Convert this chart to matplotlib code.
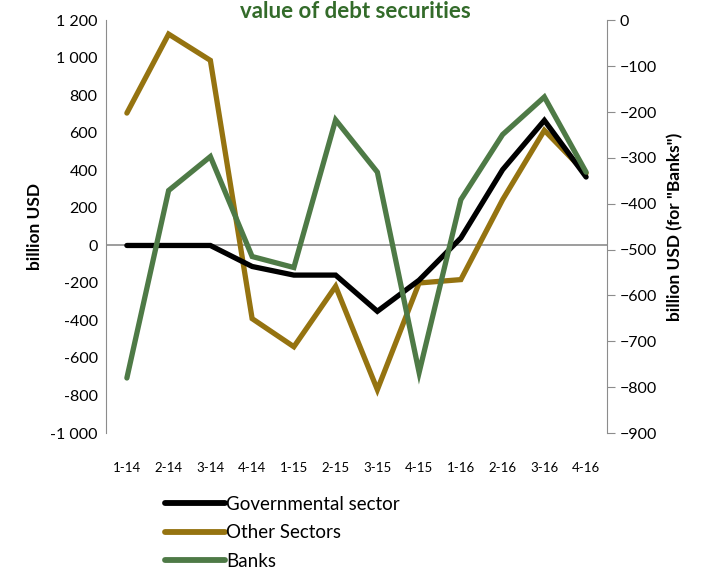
import matplotlib.pyplot as plt

plt.rcParams['font.family'] = ['Lato', 'DejaVu Sans']

quarters = ['1-14', '2-14', '3-14', '4-14', '1-15', '2-15', '3-15', '4-15',
            '1-16', '2-16', '3-16', '4-16']
governmental = [0, 0, 0, -112, -158, -158, -351, -185, 40, 404, 667, 365]
other_sectors = [706, 1127, 987, -390, -540, -218, -769, -200, -182, 244, 614, 385]
banks = [-780, -371, -297, -515, -539, -217, -331, -768, -391, -249, -167, -331]

left_ticks = list(range(-1000, 1201, 200))
right_ticks = list(range(-900, 1, 100))

grey = '#8c8c8c'
fig = plt.figure(figsize=(7.1, 5.69), dpi=100)
ax = fig.add_axes([0.1493, 0.239, 0.7056, 0.7251])
x = range(len(quarters))

ax.axhline(0, color=grey, lw=1.2, zorder=1)
ax.plot(x, other_sectors, color='#957310', lw=3.8, solid_capstyle='round',
        solid_joinstyle='miter', label='Other Sectors', zorder=2)
ax.plot(x, governmental, color='black', lw=3.8, solid_capstyle='round',
        solid_joinstyle='miter', label='Governmental sector', zorder=3)
ax.set_xlim(-0.5, 11.5)
ax.set_ylim(-1000, 1200)
ax.set_yticks(left_ticks)
ax.set_yticklabels([f'{v:,}'.replace(',', ' ') for v in left_ticks])
ax.set_xticks(list(x))
ax.set_xticklabels(quarters)
ax.tick_params(axis='x', length=0, pad=21, labelsize=9.5)
ax.tick_params(axis='y', length=0, pad=6, labelsize=11.5)
for s in ['top', 'right', 'bottom']:
    ax.spines[s].set_visible(False)
ax.spines['left'].set_color(grey)
ax.set_ylabel('billion USD', fontsize=12.5, fontweight='bold', labelpad=5)

ax2 = ax.twinx()
ax2.plot(x, banks, color='#4e7a46', lw=3.8, solid_capstyle='round',
         solid_joinstyle='miter', label='Banks')
ax2.set_ylim(-900, 0)
ax2.set_yticks(right_ticks)
ax2.tick_params(axis='y', length=6, color=grey, pad=3, labelsize=11.5)
for s in ['top', 'left', 'bottom']:
    ax2.spines[s].set_visible(False)
ax2.spines['right'].set_color(grey)
ax2.set_ylabel('billion USD (for "Banks")', fontsize=12.5, fontweight='bold',
               labelpad=7)

fig.text(0.5, 0.999, 'value of debt securities', ha='center', va='top',
         fontsize=16, fontweight='bold', color='#336b2a')

h1, l1 = ax.get_legend_handles_labels()
h2, l2 = ax2.get_legend_handles_labels()
handles = [h1[1], h1[0], h2[0]]
labels = [l1[1], l1[0], l2[0]]
leg = fig.legend(handles, labels, loc='upper left', bbox_to_anchor=(0.222, 0.142),
                 frameon=False, fontsize=13.5, handlelength=3.2, handletextpad=0.05,
                 labelspacing=0.62, borderaxespad=0)
for line in leg.get_lines():
    line.set_linewidth(4.2)

fig.savefig('out.png', dpi=100)
